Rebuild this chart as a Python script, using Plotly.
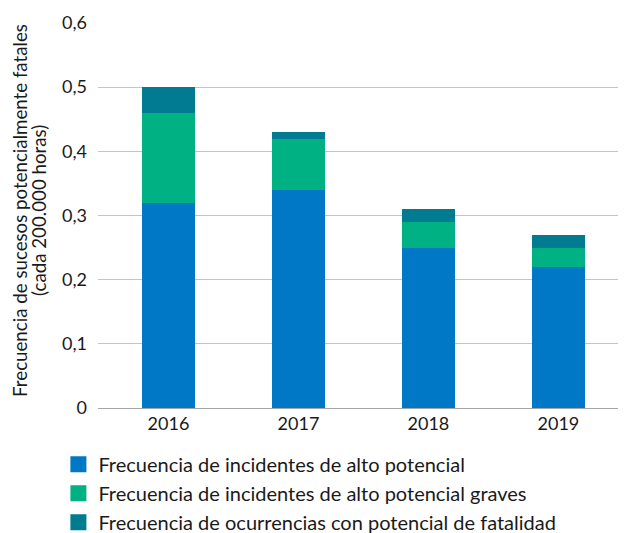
import plotly.graph_objects as go

YEARS = ['2016', '2017', '2018', '2019']
ALTO_POTENCIAL = [0.32, 0.34, 0.25, 0.22]
ALTO_POTENCIAL_GRAVES = [0.14, 0.08, 0.04, 0.03]
POTENCIAL_FATALIDAD = [0.04, 0.01, 0.02, 0.02]

SERIES = [
    ('Frecuencia de incidentes de alto potencial', ALTO_POTENCIAL, '#0078C5'),
    ('Frecuencia de incidentes de alto potencial graves', ALTO_POTENCIAL_GRAVES, '#00B183'),
    ('Frecuencia de ocurrencias con potencial de fatalidad', POTENCIAL_FATALIDAD, '#007B8F'),
]

Y_TITLE = ['Frecuencia de sucesos potencialmente fatales', '(cada 200.000 horas)']

FONT = 'Lato'
TEXT = '#1a1a1a'

fig = go.Figure()
for i, (name, vals, color) in enumerate(SERIES):
    fig.add_trace(go.Bar(
        x=YEARS, y=vals, name=name, showlegend=False,
        marker=dict(color=color, line=dict(width=0)),
    ))
    # legend entry with a bigger square swatch than the bar default
    fig.add_trace(go.Scatter(
        x=[None], y=[None], name=name, mode='markers',
        legendgroup=f'g{i}',
        marker=dict(symbol='square', size=16, color=color),
    ))

# page body adds an 8px offset; figure is a bit taller than the window
# so the last legend row is not clipped
fig.update_layout(
    width=618, height=545,
    barmode='stack',
    bargap=0.59,
    paper_bgcolor='white',
    plot_bgcolor='white',
    margin=dict(l=90, r=0, t=15, b=145),
    font=dict(family=FONT, size=18, color=TEXT),
    legend=dict(
        orientation='v',
        x=-0.075, xanchor='left',
        yref='container', y=0.1985, yanchor='top',
        traceorder='normal',
        font=dict(size=20, color=TEXT),
        itemsizing='trace',
        tracegroupgap=0,
    ),
    xaxis=dict(
        range=[-0.542, 3.52],
        showgrid=False, zeroline=False, showline=False,
        ticks='', tickfont=dict(size=18), ticklabelstandoff=3,
    ),
    yaxis=dict(
        range=[0, 0.6],
        tickvals=[0, 0.1, 0.2, 0.3, 0.4, 0.5, 0.6],
        ticktext=['0', '0,1', '0,2', '0,3', '0,4', '0,5', '0,6'],
        showgrid=True, gridcolor='#c4c4c4', gridwidth=1,
        zeroline=True, zerolinecolor='#a6a6a6', zerolinewidth=1,
        showline=False, ticks='', ticklabelstandoff=10,
        tickfont=dict(size=18),
    ),
)

for line, xpos in zip(Y_TITLE, [-0.1477, -0.1117]):
    fig.add_annotation(
        text=line,
        xref='paper', yref='paper', x=xpos, y=0.512,
        xanchor='center', yanchor='middle',
        textangle=-90, showarrow=False,
        font=dict(size=18.7, color=TEXT),
    )

fig.write_html('out.html')
